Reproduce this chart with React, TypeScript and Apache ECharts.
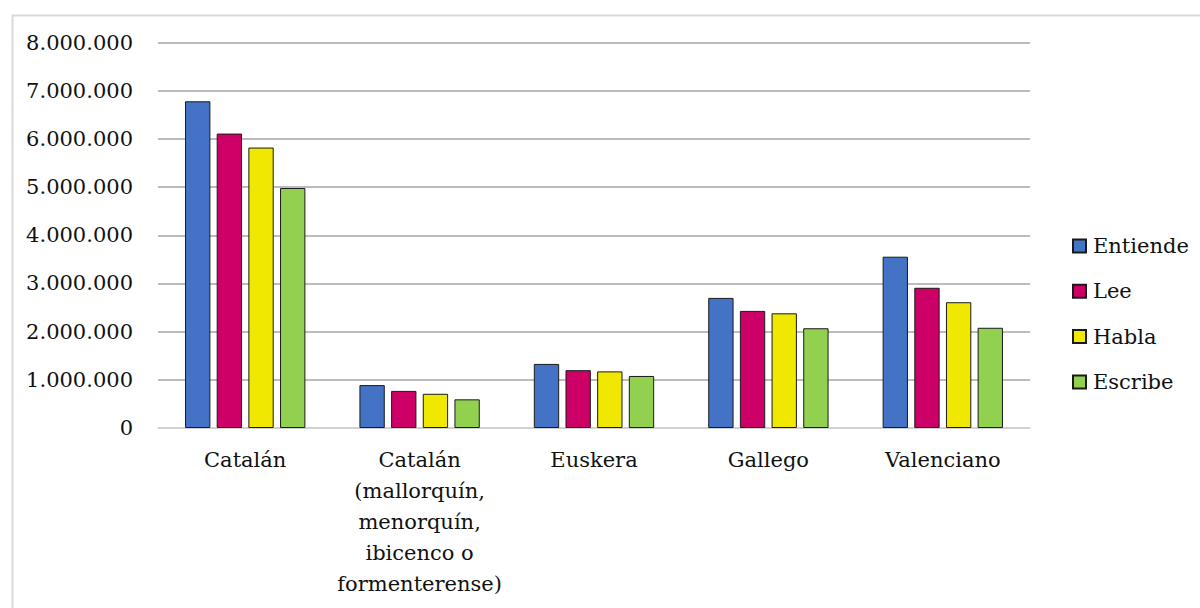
import React, { useEffect, useRef } from "react";
import * as echarts from "echarts";

// Languages (categories) and number of speakers per skill
const categories = [
  "Catalán",
  "Catalán\n(mallorquín,\nmenorquín,\nibicenco o\nformenterense)",
  "Euskera",
  "Gallego",
  "Valenciano",
];
const entiende = [6780000, 890000, 1330000, 2700000, 3555000];
const lee = [6110000, 770000, 1200000, 2430000, 2910000];
const habla = [5820000, 710000, 1175000, 2380000, 2610000];
const escribe = [4980000, 595000, 1080000, 2070000, 2080000];

const seriesNames = ["Entiende", "Lee", "Habla", "Escribe"];
const seriesColors = ["#4472C4", "#CC0066", "#F0E800", "#92D050"];

const FONT = "DejaVu Serif";
const FONT_SIZE = 21;

const fmt = (v: number) =>
  String(Math.round(v)).replace(/\B(?=(\d{3})+(?!\d))/g, ".");

export default function App() {
  const ref = useRef<HTMLDivElement>(null);

  useEffect(() => {
    if (!ref.current) return;
    const chart = echarts.init(ref.current, undefined, { renderer: "svg" });
    const data = [entiende, lee, habla, escribe];
    chart.setOption({
      animation: false,
      backgroundColor: "#ffffff",
      textStyle: { fontFamily: FONT },
      graphic: [
        {
          type: "rect",
          left: 10,
          top: 13,
          shape: { width: 1210, height: 620 },
          style: { fill: "none", stroke: "#d9d9d9", lineWidth: 2 },
          silent: true,
        },
      ],
      grid: { left: 158, right: 170, top: 42.5, bottom: 180, containLabel: false },
      legend: {
        orient: "vertical",
        left: 1072,
        top: 233,
        padding: 0,
        itemWidth: 13,
        itemHeight: 13,
        itemGap: 19.3,
        icon: "rect",
        data: seriesNames,
        textStyle: { fontFamily: FONT, fontSize: FONT_SIZE, lineHeight: 26, color: "#111", padding: [0, 0, 0, 2] },
      },
      xAxis: {
        type: "category",
        data: categories,
        axisTick: { show: false },
        axisLine: { lineStyle: { color: "#d9d9d9", width: 1.5 } },
        axisLabel: {
          fontFamily: FONT,
          fontSize: FONT_SIZE,
          lineHeight: 31,
          color: "#111",
          margin: 16,
          interval: 0,
        },
      },
      yAxis: {
        type: "value",
        min: 0,
        max: 8000000,
        interval: 1000000,
        axisLine: { show: false },
        axisTick: { show: false },
        splitLine: { lineStyle: { color: "#a6a6a6", width: 1.5 } },
        axisLabel: {
          fontFamily: FONT,
          fontSize: FONT_SIZE,
          color: "#111",
          margin: 25,
          formatter: (v: number) => fmt(v),
        },
      },
      series: seriesNames.map((name, i) => ({
        name,
        type: "bar",
        data: data[i],
        barGap: "25%",
        barCategoryGap: "31%",
        itemStyle: {
          color: seriesColors[i],
          borderColor: "#1a1a1a",
          borderWidth: 1,
        },
      })),
    });
    return () => chart.dispose();
  }, []);

  return (
    <div
      ref={ref}
      style={{ position: "absolute", left: 0, top: 0, width: 1200, height: 608 }}
    />
  );
}
